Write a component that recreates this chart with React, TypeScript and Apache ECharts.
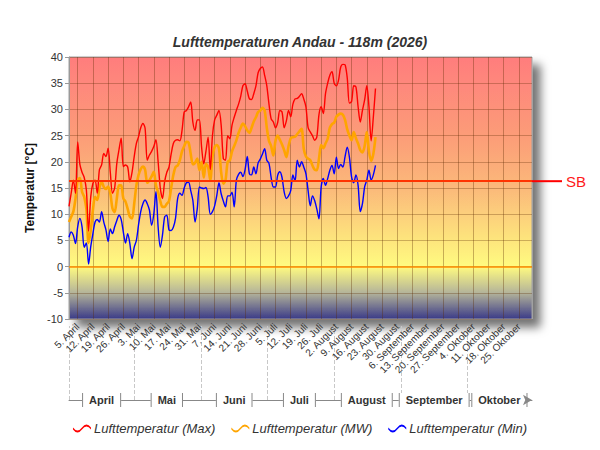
import { useEffect, useRef } from 'react'
import * as echarts from 'echarts'

// Monate der Saison (1. April bis 31. Oktober)
const MONTHS = ['April', 'Mai', 'Juni', 'Juli', 'August', 'September', 'Oktober']
const MONTH_DAYS = [30, 31, 30, 31, 31, 30, 31]

// Tageswerte ab 1. April
const TMAX = [
  11.5, 14, 16.5, 14, 23.8, 19.5, 18, 17, 14.6, 6.8,
  13.3, 15.9, 16.5, 14, 18.5, 19.4, 21.6, 21, 22.6, 18,
  14, 15, 19.7, 22.3, 24.5, 19.1, 19.4, 19, 16.2, 18,
  21, 23.5, 24.8, 26.5, 27.3, 26.4, 20.3, 21.3, 22, 22.9,
  24.2, 20, 15, 13, 16.2, 18, 19, 21.5, 23.5, 24.1,
  24.2, 24, 26, 29.5, 29.8, 30.5, 31.4, 27.5, 26, 28,
  28, 22.8, 19.6, 22, 24.7, 18.5, 25, 28, 28.9, 29.8,
  27, 20.6, 20.3, 25, 24.4, 27, 28.5, 29.8, 31, 32.5,
  34.5, 34.9, 33.5, 32, 31.9, 33, 34.5, 37, 37.8, 38.1,
  36.5, 34.5, 31, 28.2, 27.6, 26.5, 27.5, 29.8, 29.5, 26.5,
  27.8, 29.8, 28.6, 31, 32, 32.1, 32.5, 33, 32, 30.5,
  26.5, 25.7, 25, 24.1, 24.7, 29, 30.5, 29.2, 33, 35,
  36.5, 37.2, 35, 34.5, 35.6, 38.1, 38.6, 38.5, 36, 31.2,
  31.5, 34.5, 34.3, 30.5, 27.6, 29.8, 31.8, 34.5, 30.5, 24,
  28.5, 34
]

const TAVG = [
  8.5, 9.5, 10.5, 13, 16.5, 16.9, 14.3, 13.3, 11, 4.5,
  6.9, 10.8, 13.3, 12.7, 15, 16.3, 15.2, 14.8, 15.3, 14,
  11.1, 10.4, 13, 15.5, 15.5, 13, 12.4, 11, 9.5, 9.2,
  12, 15.5, 17.5, 18.6, 19.1, 18.5, 16, 16.5, 17.2, 18.1,
  15.5, 14.2, 12.5, 11.4, 11.4, 12, 12.5, 15, 17.5, 19,
  19.3, 20.3, 22, 23, 23.8, 23.7, 21.5, 19.5, 19.8, 20.6,
  18.4, 20, 17, 19.6, 19, 16.5, 20.9, 22.8, 23.2, 22.5,
  18, 15.8, 16.5, 20, 20.3, 22, 23, 24.1, 25.5, 26.5,
  27.3, 26.8, 26, 25.5, 26.5, 27.7, 28.5, 29.5, 29.8, 30.3,
  29.8, 26.5, 24, 23, 21.2, 24, 25, 24.2, 23.3, 22.2,
  20.9, 23, 24.5, 24.7, 24.8, 25.3, 25.8, 26.3, 22.5, 21,
  20.6, 20.3, 19.3, 18.5, 18.4, 20.6, 23.2, 22.6, 23.5, 24.4,
  26.5, 27.2, 27.5, 28.6, 29, 29.2, 29, 28, 26.2, 25,
  24.1, 25.7, 24.5, 23.5, 22.2, 21.8, 23, 25.7, 22, 20.2,
  21.5, 24.7
]

const TMIN = [
  5.6, 6.6, 6, 4.4, 7.6, 9.2, 7.6, 3.7, 4.5, 0.5,
  3.8, 6.3, 8.5, 9, 8.5, 10.5, 8.5, 7, 4.8, 7.2,
  6.3, 7.6, 8.8, 9.8, 9, 6.6, 4.5, 6.3, 4.4, 1.5,
  3.7, 5, 8, 10.5, 12, 12.7, 12, 10.8, 7.9, 10,
  14.3, 7.6, 3.7, 6, 9.5, 9.8, 7, 6.9, 7.5, 9.2,
  13, 14, 13.6, 15, 16, 16.1, 14.5, 12.6, 8.5, 11,
  15.2, 15, 14.9, 15.1, 13.3, 10, 10.5, 11.6, 13.6, 16,
  13.9, 12.5, 11.4, 13.5, 13.5, 14.2, 11.4, 16.5, 17.6, 18,
  17.2, 18.5, 21, 17.7, 17.5, 19, 17.7, 19.8, 20.5, 21.5,
  22.5, 20.3, 19.7, 17, 15.2, 15.2, 17.4, 18.1, 17, 14.2,
  13, 13.5, 14.5, 17.5, 16.3, 20.3, 19, 20, 19, 17.7,
  14.5, 11.6, 13.5, 12.6, 11, 9.1, 15.2, 16.8, 15.5, 16.8,
  18.4, 19.3, 17.7, 20.9, 18.7, 19.5, 19, 21, 22.8, 20.9,
  17.1, 16, 17.5, 15.5, 10.5, 12, 15.2, 16.5, 18.4, 16.5,
  17.5, 19.3
]

const SB_VALUE = 16.3
const Y_TICKS = [-10, 40, 5]

const DATES: string[] = []
const MONTH_START: number[] = []
const MONTH_MID: Record<number, string> = {}
MONTHS.forEach((m, k) => {
  MONTH_START.push(DATES.length)
  MONTH_MID[DATES.length + 15] = m
  for (let d = 1; d <= MONTH_DAYS[k]; d++) DATES.push(`${d}. ${m}`)
})

const FONT = 'Liberation Sans'
const WAVE =
  'path://M0,5 Q4.5,11 9,5 Q13.5,-1 18,5 L18,6.8 Q13.5,0.8 9,6.8 Q4.5,12.8 0,6.8 Z'

export default function App() {
  const chartRef = useRef<HTMLDivElement>(null)

  useEffect(() => {
    if (!chartRef.current) return
    const chart = echarts.init(chartRef.current, null, { renderer: 'svg' })

    const bg = new echarts.graphic.LinearGradient(0, 0, 0, 1, [
      { offset: 0, color: '#ff7d7d' },
      { offset: 0.3, color: '#fc9c78' },
      { offset: 0.5, color: '#fbb97a' },
      { offset: 0.68, color: '#fde17c' },
      { offset: 0.8, color: '#fffb80' },
      { offset: 0.9, color: '#b4b49a' },
      { offset: 1, color: '#3a3a88' }
    ])

    chart.setOption({
      animation: false,
      textStyle: { fontFamily: FONT },
      title: {
        text: 'Lufttemperaturen Andau - 118m (2026)',
        left: 'center',
        top: 30,
        textStyle: { fontSize: 14, fontWeight: 'bold', fontStyle: 'italic', color: '#333', fontFamily: FONT }
      },
      legend: {
        top: 417,
        left: 'center',
        itemWidth: 18,
        itemHeight: 9,
        itemGap: 16,
        icon: WAVE,
        textStyle: { fontSize: 13, fontStyle: 'italic', color: '#333', fontFamily: FONT, padding: [0, 0, 0, -2] },
        data: ['Lufttemperatur (Max)', 'Lufttemperatur (MW)', 'Lufttemperatur (Min)']
      },
      grid: {
        left: 69,
        right: 68,
        top: 57,
        bottom: 131,
        show: true,
        backgroundColor: bg,
        borderColor: '#a0a0a0',
        borderWidth: 1,
        shadowColor: 'rgba(0,0,0,0.55)',
        shadowBlur: 10,
        shadowOffsetX: 8,
        shadowOffsetY: 8
      },
      xAxis: [
        {
          type: 'category',
          data: DATES,
          boundaryGap: false,
          axisLine: { show: false },
          axisTick: { show: false },
          axisLabel: {
            interval: (i: number) => i >= 4 && (i - 4) % 7 === 0,
            rotate: 45,
            fontSize: 10,
            color: '#333',
            margin: 6
          },
          splitLine: {
            show: true,
            interval: (i: number) => i >= 4 && (i - 4) % 7 === 0,
            lineStyle: { color: 'rgba(90,40,0,0.34)', width: 1 }
          }
        },
        {
          type: 'category',
          data: DATES,
          boundaryGap: false,
          position: 'bottom',
          offset: 81,
          axisLine: {
            show: true,
            symbol: ['none', 'arrow'],
            symbolSize: [8, 9],
            lineStyle: { color: '#888', width: 1 }
          },
          axisTick: {
            show: true,
            inside: true,
            length: 74,
            interval: (i: number) => MONTH_START.includes(i),
            lineStyle: { color: '#c8c8c8', type: 'dashed' }
          },
          axisLabel: {
            interval: (i: number) => MONTH_MID[i] !== undefined,
            formatter: (_v: string, i: number) => `{b|}{t|${MONTH_MID[i]}}{b|}`,
            margin: -7,
            backgroundColor: '#fff',
            rich: {
              b: { width: 1, height: 14, backgroundColor: '#888' },
              t: { fontSize: 11, fontWeight: 'bold', color: '#333', padding: [0, 6], fontFamily: FONT }
            }
          },
          splitLine: { show: false }
        }
      ],
      yAxis: {
        type: 'value',
        min: Y_TICKS[0],
        max: Y_TICKS[1],
        interval: Y_TICKS[2],
        name: 'Temperatur [°C]',
        nameLocation: 'middle',
        nameGap: 30,
        nameTextStyle: { fontSize: 12, fontWeight: 'bold', color: '#111', fontFamily: FONT },
        axisLine: { show: true, lineStyle: { color: '#999' } },
        axisTick: { show: true, length: 4, lineStyle: { color: '#999' } },
        axisLabel: { fontSize: 11, color: '#333', margin: 6 },
        splitLine: { show: true, lineStyle: { color: 'rgba(90,40,0,0.3)', width: 1 } }
      },
      series: [
        {
          name: 'Lufttemperatur (MW)',
          type: 'line',
          data: TAVG,
          smooth: 0.3,
          showSymbol: false,
          z: 3,
          lineStyle: { color: '#ffa500', width: 2.6 },
          itemStyle: { color: '#ffa500' },
          markLine: {
            silent: true,
            symbol: 'none',
            data: [
              {
                yAxis: 0,
                lineStyle: { color: '#ff8c00', width: 1.5, type: 'solid' },
                label: { show: false }
              },
              {
                yAxis: SB_VALUE,
                lineStyle: { color: '#ff3300', width: 2, type: 'solid' },
                label: {
                  show: true,
                  position: 'end',
                  distance: 0,
                  formatter: '{l|}{t|SB}',
                  rich: {
                    l: { width: 30, height: 2, backgroundColor: '#ff0000', verticalAlign: 'middle' },
                    t: { fontSize: 15, color: '#ff1a1a', padding: [0, 0, 0, 4], verticalAlign: 'middle', fontFamily: FONT }
                  }
                }
              }
            ]
          }
        },
        {
          name: 'Lufttemperatur (Max)',
          type: 'line',
          data: TMAX,
          smooth: 0.3,
          showSymbol: false,
          z: 4,
          lineStyle: { color: '#ff0000', width: 1.4 },
          itemStyle: { color: '#ff0000' }
        },
        {
          name: 'Lufttemperatur (Min)',
          type: 'line',
          data: TMIN,
          smooth: 0.3,
          showSymbol: false,
          z: 4,
          lineStyle: { color: '#0000ff', width: 1.4 },
          itemStyle: { color: '#0000ff' }
        }
      ]
    })

    return () => chart.dispose()
  }, [])

  return (
    <div
      ref={chartRef}
      style={{ position: 'absolute', left: 0, top: 0, width: '600px', height: '450px', background: '#fff' }}
    />
  )
}
